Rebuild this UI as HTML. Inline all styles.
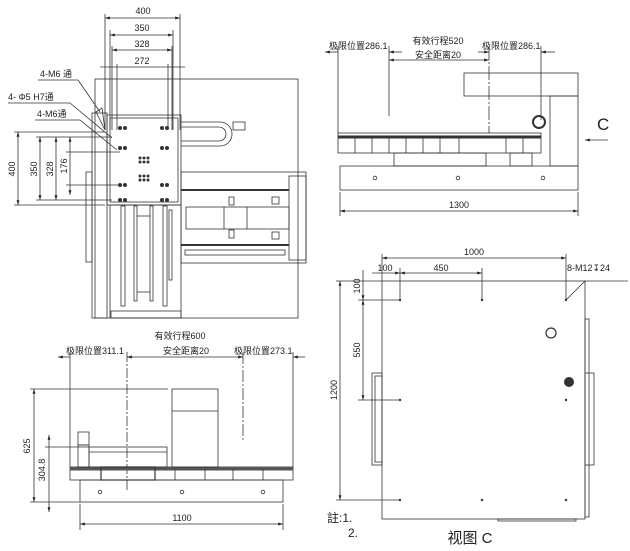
<!DOCTYPE html>
<html><head><meta charset="utf-8"><style>
html,body{margin:0;padding:0;background:#fff;width:630px;height:551px;overflow:hidden}
svg{display:block}
text{font-family:"Liberation Sans","Noto Sans CJK SC",sans-serif;fill:#222}
</style></head><body>
<svg width="630" height="551" viewBox="0 0 630 551" xmlns="http://www.w3.org/2000/svg">
<defs>
<marker id="a" viewBox="0 0 10 10" refX="10" refY="5" markerWidth="6" markerHeight="6" orient="auto-start-reverse"><path d="M0,2 L10,5 L0,8z" fill="#222"/></marker>
</defs>
<g stroke="#333" stroke-width="0.8" fill="none">
<line x1="105" y1="18" x2="180" y2="18" marker-start="url(#a)" marker-end="url(#a)"/>
<line x1="110" y1="35" x2="173" y2="35" marker-start="url(#a)" marker-end="url(#a)"/>
<line x1="112" y1="50" x2="172" y2="50" marker-start="url(#a)" marker-end="url(#a)"/>
<line x1="100" y1="67" x2="185" y2="67"/>
<line x1="105" y1="14" x2="105" y2="130"/><line x1="180" y1="14" x2="180" y2="130"/>
<line x1="110" y1="30" x2="110" y2="130"/><line x1="173" y1="30" x2="173" y2="130"/>
<line x1="112" y1="46" x2="112" y2="130"/><line x1="172" y1="46" x2="172" y2="130"/>
<line x1="117" y1="64" x2="117" y2="130"/><line x1="168" y1="64" x2="168" y2="130"/>
<rect x="95" y="79" width="203" height="239"/>
<rect x="92" y="113" width="15" height="205"/>
<rect x="86" y="172" width="6" height="90"/>
<rect x="107" y="115" width="74" height="90"/>
<rect x="110" y="118" width="68" height="84"/>
<path d="M181,122 H220 A12,12 0 0 1 220,146 H181"/>
<path d="M181,127 H219 A7,7 0 0 1 219,141 H181"/>
<rect x="233" y="122" width="12" height="8"/>
<rect x="110" y="205" width="71" height="113"/>
<rect x="121" y="206" width="4" height="100"/><rect x="134" y="206" width="3" height="95"/>
<rect x="150" y="206" width="3" height="95"/><rect x="163" y="206" width="4" height="100"/>
<rect x="169" y="210" width="3" height="70"/>
<line x1="137" y1="216" x2="150" y2="216"/><line x1="137" y1="292" x2="150" y2="292"/>
<rect x="111" y="311" width="70" height="7"/>
<rect x="181" y="172" width="125" height="91"/>
<rect x="289" y="176" width="17" height="84"/>
<line x1="181" y1="190" x2="289" y2="190" stroke-width="2"/>
<line x1="181" y1="245" x2="289" y2="245" stroke-width="2"/>
<rect x="186" y="207" width="103" height="22"/>
<line x1="224" y1="207" x2="224" y2="229"/><line x1="247" y1="207" x2="247" y2="229"/>
<rect x="185" y="250" width="100" height="5"/>
<rect x="229" y="197" width="5" height="8"/><rect x="229" y="230" width="5" height="8"/>
<rect x="272" y="197" width="7" height="7"/><rect x="272" y="232" width="7" height="7"/>
<line x1="18" y1="132" x2="18" y2="205" marker-start="url(#a)" marker-end="url(#a)"/>
<line x1="40" y1="137" x2="40" y2="200" marker-start="url(#a)" marker-end="url(#a)"/>
<line x1="56" y1="137" x2="56" y2="200" marker-start="url(#a)" marker-end="url(#a)"/>
<line x1="70" y1="137" x2="70" y2="195" marker-start="url(#a)" marker-end="url(#a)"/>
<line x1="14" y1="132" x2="105" y2="132"/><line x1="14" y1="205" x2="105" y2="205"/>
<line x1="36" y1="137" x2="112" y2="137"/><line x1="36" y1="200" x2="112" y2="200"/>
<line x1="66" y1="152" x2="120" y2="152"/><line x1="66" y1="185" x2="120" y2="185"/>
<line x1="38" y1="80" x2="78" y2="80"/><line x1="78" y1="80" x2="100" y2="112"/>
<line x1="8" y1="103" x2="70" y2="103"/><line x1="70" y1="103" x2="112" y2="138"/>
<line x1="35" y1="120" x2="80" y2="120"/><line x1="80" y1="120" x2="117" y2="150"/>
<path d="M96,112 L102,108 L105,130 Z"/>
<line x1="325" y1="52" x2="338" y2="52" marker-start="url(#a)"/>
<line x1="389" y1="52" x2="402" y2="52" marker-start="url(#a)"/>
<line x1="478" y1="52" x2="489" y2="52" marker-end="url(#a)"/>
<line x1="541" y1="52" x2="555" y2="52" marker-start="url(#a)"/>
<line x1="389" y1="60" x2="489" y2="60" marker-start="url(#a)" marker-end="url(#a)"/>
<line x1="338" y1="46" x2="338" y2="133"/><line x1="389" y1="46" x2="389" y2="116"/>
<line x1="489" y1="46" x2="489" y2="133" stroke-dasharray="14,2,2,2"/><line x1="541" y1="46" x2="541" y2="120"/>
<rect x="464" y="73" width="114" height="23"/>
<rect x="550" y="96" width="28" height="70"/>
<circle cx="539" cy="122" r="6" stroke-width="2"/>
<rect x="338" y="133" width="203" height="20"/>
<line x1="338" y1="137" x2="541" y2="137" stroke-width="3"/>
<line x1="355" y1="137" x2="355" y2="153"/><line x1="372" y1="137" x2="372" y2="153"/>
<line x1="389" y1="137" x2="389" y2="153"/><line x1="406" y1="137" x2="406" y2="153"/>
<line x1="423" y1="137" x2="423" y2="153"/><line x1="440" y1="137" x2="440" y2="153"/>
<line x1="459" y1="137" x2="459" y2="153"/><line x1="506" y1="137" x2="506" y2="153"/>
<line x1="523" y1="137" x2="523" y2="153"/>
<rect x="394" y="153" width="92" height="13"/>
<rect x="510" y="153" width="22" height="13"/>
<rect x="340" y="166" width="238" height="24"/>
<circle cx="375" cy="178" r="1.8"/><circle cx="458" cy="178" r="1.8"/><circle cx="543" cy="178" r="1.8"/>
<line x1="340" y1="192" x2="340" y2="216"/><line x1="578" y1="192" x2="578" y2="216"/>
<line x1="340" y1="211" x2="578" y2="211" marker-start="url(#a)" marker-end="url(#a)"/>
<line x1="608" y1="140" x2="585" y2="140" marker-end="url(#a)"/>
<line x1="58" y1="357" x2="70" y2="357" marker-start="url(#a)"/>
<line x1="127" y1="357" x2="243" y2="357" marker-start="url(#a)" marker-end="url(#a)"/>
<line x1="293" y1="357" x2="305" y2="357" marker-start="url(#a)"/>
<line x1="70" y1="352" x2="70" y2="467"/>
<line x1="127" y1="352" x2="127" y2="490" stroke-dasharray="10,2,2,2"/>
<line x1="243" y1="352" x2="243" y2="440" stroke-dasharray="12,2,2,2"/>
<line x1="293" y1="352" x2="293" y2="467"/>
<rect x="172" y="389" width="46" height="78"/><line x1="172" y1="411" x2="218" y2="411"/>
<rect x="78" y="432" width="11" height="13"/><rect x="78" y="445" width="11" height="22"/>
<rect x="89" y="447" width="78" height="20"/><line x1="89" y1="452" x2="167" y2="452"/>
<rect x="70" y="467" width="223" height="13"/>
<line x1="70" y1="469" x2="293" y2="469" stroke-width="3" stroke="#555"/>
<rect x="101" y="467" width="54" height="13" stroke-width="1.2"/>
<line x1="175" y1="469" x2="175" y2="480"/><line x1="205" y1="469" x2="205" y2="480"/><line x1="233" y1="469" x2="233" y2="480"/><line x1="263" y1="469" x2="263" y2="480"/>
<rect x="80" y="480" width="203" height="22"/>
<circle cx="100" cy="492" r="1.8"/><circle cx="182" cy="492" r="1.8"/><circle cx="263" cy="492" r="1.8"/>
<line x1="34" y1="389" x2="34" y2="502" marker-start="url(#a)" marker-end="url(#a)"/>
<line x1="30" y1="389" x2="168" y2="389"/><line x1="30" y1="502" x2="80" y2="502"/>
<line x1="49" y1="435" x2="49" y2="512" marker-start="url(#a)" marker-end="url(#a)"/>
<line x1="45" y1="447" x2="89" y2="447"/>
<line x1="80" y1="504" x2="80" y2="530"/><line x1="283" y1="504" x2="283" y2="530"/>
<line x1="80" y1="524" x2="283" y2="524" marker-start="url(#a)" marker-end="url(#a)"/>
<rect x="382" y="281" width="203" height="238"/>
<rect x="585" y="319" width="4" height="198"/>
<rect x="372" y="373" width="10" height="92"/><rect x="375" y="376" width="7" height="86"/>
<rect x="585" y="373" width="9" height="92"/>
<rect x="498" y="519" width="78" height="2"/>
<line x1="382" y1="258" x2="566" y2="258" marker-start="url(#a)" marker-end="url(#a)"/>
<line x1="382" y1="254" x2="382" y2="281"/><line x1="566" y1="254" x2="566" y2="300"/>
<line x1="372" y1="273" x2="400" y2="273" marker-end="url(#a)"/>
<line x1="400" y1="273" x2="482" y2="273" marker-start="url(#a)" marker-end="url(#a)"/>
<line x1="400" y1="268" x2="400" y2="300"/><line x1="482" y1="268" x2="482" y2="300"/>
<line x1="566" y1="300" x2="585" y2="281"/><line x1="585" y1="281" x2="628" y2="281"/>
<line x1="340" y1="281" x2="340" y2="500" marker-start="url(#a)" marker-end="url(#a)"/>
<line x1="336" y1="281" x2="382" y2="281"/><line x1="336" y1="500" x2="400" y2="500"/>
<line x1="363" y1="270" x2="363" y2="300" marker-end="url(#a)"/>
<line x1="363" y1="300" x2="363" y2="400" marker-start="url(#a)" marker-end="url(#a)"/>
<line x1="358" y1="300" x2="400" y2="300"/><line x1="358" y1="400" x2="400" y2="400"/>
<circle cx="551" cy="333" r="5" stroke-width="1.2"/>
</g>
<g fill="#333">
<circle cx="569" cy="382" r="5"/>
<circle cx="400" cy="300" r="1.2"/><circle cx="482" cy="300" r="1.2"/><circle cx="566" cy="300" r="1.2"/>
<circle cx="400" cy="400" r="1.2"/><circle cx="566" cy="400" r="1.2"/>
<circle cx="400" cy="500" r="1.2"/><circle cx="482" cy="500" r="1.2"/><circle cx="566" cy="500" r="1.2"/>
<circle cx="120" cy="128" r="2"/><circle cx="125" cy="128" r="2"/><circle cx="162" cy="128" r="2"/><circle cx="167" cy="128" r="2"/>
<circle cx="120" cy="148" r="2"/><circle cx="125" cy="148" r="2"/><circle cx="162" cy="148" r="2"/><circle cx="167" cy="148" r="2"/>
<circle cx="120" cy="185" r="2"/><circle cx="125" cy="185" r="2"/><circle cx="162" cy="185" r="2"/><circle cx="167" cy="185" r="2"/>
<circle cx="120" cy="200" r="2"/><circle cx="125" cy="200" r="2"/><circle cx="162" cy="200" r="2"/><circle cx="167" cy="200" r="2"/>
<circle cx="140" cy="158" r="1.5"/><circle cx="144" cy="158" r="1.5"/><circle cx="148" cy="158" r="1.5"/>
<circle cx="140" cy="162" r="1.5"/><circle cx="144" cy="162" r="1.5"/><circle cx="148" cy="162" r="1.5"/>
<circle cx="140" cy="176" r="1.5"/><circle cx="144" cy="176" r="1.5"/><circle cx="148" cy="176" r="1.5"/>
<circle cx="140" cy="180" r="1.5"/><circle cx="144" cy="180" r="1.5"/><circle cx="148" cy="180" r="1.5"/>
</g>
<g font-size="9">
<text x="143" y="14" text-anchor="middle">400</text>
<text x="142" y="31" text-anchor="middle">350</text>
<text x="142" y="47" text-anchor="middle">328</text>
<text x="142" y="64" text-anchor="middle">272</text>
<text x="40" y="77">4-M6 通</text>
<text x="8" y="100">4- Φ5 H7通</text>
<text x="37" y="117">4-M6通</text>
<text transform="translate(15,169) rotate(-90)" text-anchor="middle">400</text>
<text transform="translate(37,169) rotate(-90)" text-anchor="middle">350</text>
<text transform="translate(53,169) rotate(-90)" text-anchor="middle">328</text>
<text transform="translate(67,166) rotate(-90)" text-anchor="middle">176</text>
<text x="329" y="49">极限位置286.1</text>
<text x="438" y="44" text-anchor="middle">有效行程520</text>
<text x="438" y="58" text-anchor="middle">安全距离20</text>
<text x="482" y="49">极限位置286.1</text>
<text x="459" y="208" text-anchor="middle">1300</text>
<text x="597" y="130" font-size="17">C</text>
<text x="180" y="339" text-anchor="middle">有效行程600</text>
<text x="66" y="354">极限位置311.1</text>
<text x="186" y="354" text-anchor="middle">安全距离20</text>
<text x="234" y="354">极限位置273.1</text>
<text transform="translate(30,446) rotate(-90)" text-anchor="middle">625</text>
<text transform="translate(45,470) rotate(-90)" text-anchor="middle">304.8</text>
<text x="182" y="521" text-anchor="middle">1100</text>
<text x="474" y="255" text-anchor="middle">1000</text>
<text x="385" y="271" text-anchor="middle">100</text>
<text x="441" y="271" text-anchor="middle">450</text>
<text x="567" y="271">8-M12↧24</text>
<text transform="translate(337,390) rotate(-90)" text-anchor="middle">1200</text>
<text transform="translate(360,286) rotate(-90)" text-anchor="middle">100</text>
<text transform="translate(360,350) rotate(-90)" text-anchor="middle">550</text>
<text x="327" y="522" font-size="12">註:1.</text>
<text x="348" y="537" font-size="12">2.</text>
<text x="470" y="543" font-size="15" text-anchor="middle">视图 C</text>
</g>
</svg>
</body></html>
